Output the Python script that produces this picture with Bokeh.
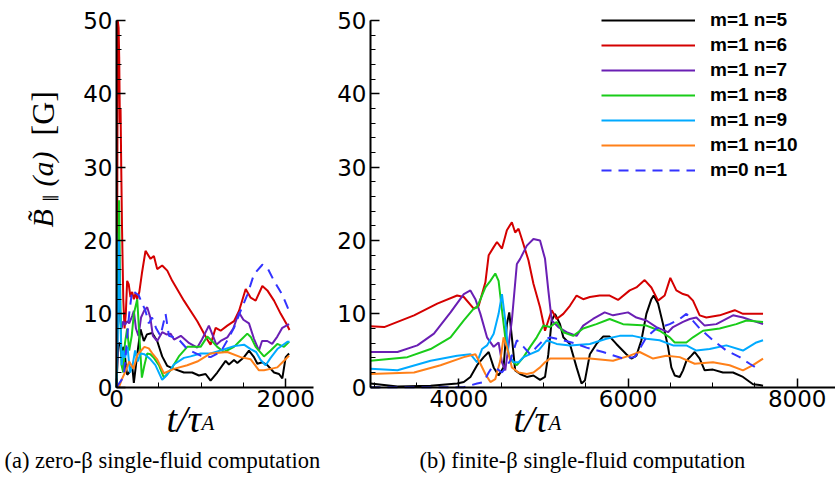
import math
from bokeh.plotting import figure
from bokeh.models import Range1d, FixedTicker, Label, Legend, LegendItem
from bokeh.layouts import row
from bokeh.embed import file_html
from bokeh.resources import INLINE

# ---------------- data: panel (a) zero-beta ----------------
a_t_n5 = [0, 10, 20, 40, 60, 80, 95, 110, 126, 150, 185, 205, 240, 284, 323, 360, 422, 481, 540, 600, 678, 797, 895, 974, 1053, 1112, 1191, 1290, 1329, 1389, 1428, 1507, 1566, 1625, 1665, 1724, 1783, 1862, 1921, 1960, 2000, 2040]
a_v_n5 = [0, 3, 6, 6, 4, 5.5, 5, 3, 1.7, 2, 3, 0.6, 4, 7.9, 6.3, 7.2, 7.4, 6.3, 4.2, 2.9, 2.5, 2.0, 2.0, 1.6, 1.8, 0.9, 2.0, 3.6, 3.1, 3.7, 3.3, 4.1, 5.0, 4.1, 3.2, 3.4, 3.0, 2.0, 1.8, 1.2, 4.1, 4.6]

a_t_n6 = [0, 8, 15, 25, 32, 40, 48, 56, 65, 80, 95, 110, 126, 145, 165, 185, 205, 225, 244, 270, 300, 343, 402, 442, 481, 540, 600, 659, 797, 955, 1073, 1112, 1172, 1231, 1310, 1389, 1448, 1527, 1586, 1645, 1724, 1783, 1862, 1941, 2020, 2045]
a_v_n6 = [0, 20, 50, 49, 45, 36, 38, 30, 22, 12, 8, 10, 14.5, 14, 12.3, 13, 12, 12.8, 12, 13, 15.5, 18.6, 17.5, 17.9, 16.1, 16.6, 15.9, 14.5, 11.8, 9.0, 6.5, 5.8, 8.1, 7.7, 8.4, 9.0, 10.4, 13.4, 12.2, 11.8, 13.8, 13.2, 11.8, 10.0, 8.4, 7.8]

a_t_n7 = [0, 10, 20, 30, 45, 60, 80, 100, 126, 150, 185, 205, 230, 260, 290, 330, 363, 400, 430, 481, 540, 590, 640, 680, 760, 860, 955, 1010, 1092, 1140, 1180, 1231, 1310, 1380, 1448, 1500, 1566, 1625, 1684, 1720, 1783, 1840, 1901, 1960, 2040]
a_v_n7 = [0, 4, 21, 15, 9, 8, 9, 8.5, 9, 8.7, 9.7, 10.4, 8, 7, 9.5, 10.5, 10.9, 9.5, 7, 6.3, 7.5, 7.2, 7.3, 6.5, 7, 6.0, 5.4, 6.5, 8.4, 7, 5.8, 6.3, 6.8, 8, 10.2, 9.2, 8.7, 6.6, 5.0, 6.3, 6.3, 5.9, 6.9, 8.1, 8.6]

a_t_n8 = [0, 15, 30, 45, 60, 80, 100, 126, 150, 180, 205, 245, 270, 300, 330, 363, 400, 442, 501, 560, 639, 737, 836, 994, 1073, 1112, 1191, 1270, 1389, 1467, 1546, 1590, 1645, 1743, 1822, 1901, 1980, 2040]
a_v_n8 = [0, 12, 25.5, 12, 3, 2, 6, 8, 5, 7, 10, 12, 7, 1.3, 3, 4.6, 4.5, 4, 3, 1.3, 2.3, 4.2, 5.5, 5.5, 6.9, 6.5, 5.5, 4.8, 5.5, 6.4, 7.3, 6.8, 5.5, 4.2, 5.0, 5.9, 5.5, 6.2]

a_t_n9 = [0, 15, 30, 45, 60, 80, 100, 130, 160, 190, 220, 250, 284, 330, 402, 460, 540, 600, 678, 797, 876, 994, 1112, 1231, 1389, 1507, 1586, 1650, 1704, 1763, 1822, 1901, 2020, 2045]
a_v_n9 = [0, 8, 20, 10, 3, 5, 4, 5.5, 2, 3, 5, 3.5, 4.6, 4.5, 3.8, 3.0, 1.0, 1.7, 3.1, 4.0, 4.2, 4.6, 4.6, 5.0, 5.6, 5.8, 5.2, 4.8, 3.7, 3.0, 4.0, 5.2, 6.2, 6.2]

a_t_n10 = [0, 30, 60, 100, 150, 200, 250, 284, 330, 382, 430, 481, 560, 678, 836, 955, 1112, 1310, 1467, 1586, 1684, 1743, 1822, 1901, 1980, 2040]
a_v_n10 = [0.5, 0, 1, 2, 3.5, 2.5, 4.5, 4.9, 5.5, 5.3, 4.5, 3.8, 1.9, 2.5, 3.0, 3.5, 4.6, 4.8, 4.1, 3.8, 2.3, 2.3, 2.5, 2.7, 3.6, 4.3]

a_t_m0 = [0, 30, 60, 90, 120, 150, 185, 230, 264, 300, 340, 382, 420, 470, 520, 580, 620, 678, 737, 836, 994, 1112, 1231, 1310, 1389, 1467, 1546, 1625, 1724, 1783, 1862, 1960, 2040]
a_v_m0 = [0, 0.5, 1, 2, 6, 10, 13.2, 12.8, 12.5, 11.5, 10.5, 8.7, 9.5, 8.0, 7.0, 10, 7, 6.8, 6.5, 5.2, 4.3, 4.1, 4.8, 6.4, 8.1, 10.4, 12.6, 15.4, 16.7, 16.3, 14.5, 12.6, 10.4]

# ---------------- data: panel (b) finite-beta ----------------
b_t_n5 = [2956, 3275, 3667, 3980, 4059, 4137, 4216, 4294, 4353, 4412, 4470, 4529, 4568, 4596, 4627, 4666, 4725, 4804, 4882, 4960, 5019, 5058, 5098, 5137, 5196, 5235, 5313, 5392, 5450, 5490, 5549, 5627, 5705, 5783, 5862, 5980, 6040, 6099, 6158, 6217, 6276, 6303, 6355, 6414, 6473, 6512, 6552, 6611, 6650, 6690, 6749, 6788, 6847, 6906, 7004, 7122, 7241, 7359, 7477, 7556, 7596]
b_v_n5 = [0.5, 0.1, 0.2, 0.5, 0.7, 1.4, 3.0, 4.1, 4.8, 2.7, 1.6, 2.7, 8.6, 10.2, 6.8, 2.3, 1.8, 1.4, 1.6, 1.0, 1.4, 4.5, 9.1, 10.0, 8.6, 6.8, 5.9, 2.7, 0.5, 0.9, 4.5, 5.9, 6.9, 6.9, 5.9, 4.5, 3.9, 4.3, 6.4, 10.0, 12.0, 12.5, 11.4, 8.6, 5.5, 2.7, 1.6, 1.4, 2.3, 3.6, 4.3, 4.8, 3.9, 2.3, 2.4, 2.0, 2.0, 1.4, 0.4, 0.3, 0.2]

b_t_n6 = [2956, 3118, 3471, 3745, 3980, 4059, 4176, 4235, 4314, 4353, 4412, 4451, 4510, 4568, 4627, 4666, 4706, 4745, 4823, 4882, 4960, 5019, 5058, 5098, 5156, 5235, 5313, 5392, 5470, 5549, 5665, 5783, 5882, 6020, 6099, 6197, 6276, 6355, 6433, 6500, 6571, 6650, 6709, 6768, 6847, 6926, 7083, 7261, 7359, 7596]
b_v_n6 = [8.3, 8.2, 9.8, 11.4, 12.5, 12.3, 10.7, 11.1, 14.3, 18.0, 19.1, 19.8, 18.9, 21.4, 22.5, 21.1, 21.6, 20.2, 17.3, 14.1, 10.9, 7.7, 9.1, 10.5, 9.3, 10.0, 11.1, 12.5, 12.0, 12.3, 12.5, 12.5, 11.9, 13.2, 13.6, 14.6, 13.6, 11.8, 12.5, 14.9, 13.2, 12.7, 12.5, 11.8, 9.8, 9.5, 9.8, 10.5, 10.0, 10.0]

b_t_n7 = [2956, 3275, 3510, 3706, 3902, 4059, 4137, 4196, 4255, 4333, 4412, 4470, 4510, 4549, 4627, 4686, 4725, 4804, 4882, 4960, 5019, 5058, 5098, 5176, 5274, 5392, 5470, 5586, 5724, 5823, 6000, 6099, 6217, 6335, 6473, 6532, 6650, 6729, 6808, 6906, 7044, 7241, 7359, 7596]
b_v_n7 = [4.8, 4.8, 5.7, 7.3, 10.2, 12.7, 13.2, 12.0, 10.0, 6.8, 5.5, 6.1, 3.4, 2.3, 9.1, 16.8, 17.5, 19.3, 20.2, 20.0, 17.5, 13.2, 9.1, 8.2, 7.5, 7.0, 8.4, 9.3, 10.2, 9.8, 10.2, 9.5, 9.1, 8.2, 7.5, 8.2, 8.9, 9.3, 9.5, 8.4, 8.6, 9.8, 9.5, 8.6]

b_t_n8 = [2956, 3392, 3667, 3902, 4059, 4176, 4216, 4314, 4373, 4431, 4470, 4510, 4549, 4588, 4627, 4686, 4765, 4843, 4921, 5000, 5078, 5156, 5235, 5352, 5470, 5626, 5783, 5941, 6217, 6374, 6493, 6552, 6690, 6768, 6887, 7083, 7280, 7399, 7596]
b_v_n8 = [3.6, 4.1, 5.2, 6.8, 9.1, 10.7, 10.9, 13.6, 14.5, 15.5, 14.5, 10.5, 6.8, 4.5, 3.6, 3.0, 4.1, 5.5, 6.8, 8.4, 8.2, 8.9, 7.5, 7.0, 8.0, 8.6, 9.3, 8.6, 8.4, 7.7, 6.8, 6.1, 6.1, 6.8, 7.7, 8.0, 8.6, 9.1, 8.9]

b_t_n9 = [2956, 3275, 3667, 3980, 4137, 4216, 4274, 4333, 4412, 4470, 4510, 4549, 4588, 4647, 4706, 4765, 4843, 4941, 5039, 5156, 5313, 5549, 5744, 5902, 6059, 6217, 6374, 6532, 6690, 6808, 6965, 7162, 7359, 7517, 7596]
b_v_n9 = [2.5, 2.3, 3.6, 4.3, 4.5, 3.4, 5.2, 5.7, 7.3, 10.0, 12.7, 9.1, 4.5, 3.4, 3.4, 4.1, 4.5, 5.0, 6.4, 5.9, 5.7, 5.9, 6.6, 7.0, 7.0, 6.6, 6.4, 5.7, 5.7, 5.0, 5.2, 5.7, 5.0, 6.1, 6.4]

b_t_n10 = [2956, 3471, 3784, 4059, 4196, 4255, 4314, 4373, 4431, 4490, 4529, 4568, 4627, 4706, 4804, 4882, 4960, 5019, 5078, 5235, 5549, 5823, 6020, 6138, 6296, 6453, 6611, 6788, 7004, 7201, 7359, 7477, 7596]
b_v_n10 = [1.8, 2.0, 3.0, 4.1, 4.5, 3.2, 1.8, 0.7, 1.1, 3.6, 6.8, 5.5, 2.7, 2.0, 1.8, 2.0, 2.7, 3.4, 3.9, 3.9, 3.9, 3.6, 4.3, 4.8, 3.9, 4.3, 4.1, 3.2, 3.4, 3.0, 2.3, 3.0, 3.9]

b_t_m0 = [2956, 3500, 4059, 4216, 4294, 4353, 4392, 4451, 4510, 4608, 4686, 4765, 4843, 4921, 5000, 5078, 5156, 5235, 5392, 5510, 5704, 5941, 6079, 6217, 6335, 6493, 6611, 6690, 6749, 6847, 7004, 7162, 7320, 7438, 7536]
b_v_m0 = [0, 0, 0, 0.5, 0.7, 2.0, 2.7, 2.5, 2.0, 3.6, 6.4, 5.5, 4.5, 5.5, 6.4, 6.8, 6.6, 6.4, 5.9, 5.4, 4.8, 3.9, 4.1, 6.8, 8.0, 8.6, 9.3, 10.0, 9.3, 8.0, 6.4, 5.0, 4.1, 3.2, 2.5]

mode_labels = ["m=1 n=5", "m=1 n=6", "m=1 n=7", "m=1 n=8", "m=1 n=9", "m=1 n=10", "m=0 n=1"]
y_ticks = [0, 10, 20, 30, 40, 50]
a_x_ticks = [0, 2000]
b_x_ticks = [4000, 6000, 8000]

colors = ["#000000", "#d40000", "#6a1fb4", "#19cc19", "#00aaff", "#ff8019", "#3333ff"]
dashes = ["solid"] * 6 + ["10 7"]

a_series = [(a_t_n5, a_v_n5), (a_t_n6, a_v_n6), (a_t_n7, a_v_n7), (a_t_n8, a_v_n8),
            (a_t_n9, a_v_n9), (a_t_n10, a_v_n10), (a_t_m0, a_v_m0)]
b_series = [(b_t_n5, b_v_n5), (b_t_n6, b_v_n6), (b_t_n7, b_v_n7), (b_t_n8, b_v_n8),
            (b_t_n9, b_v_n9), (b_t_n10, b_v_n10), (b_t_m0, b_v_m0)]

H = 478
PX_X = 0.0846            # px per time unit
PX_Y = 7.334             # px per field unit
Y0 = 386.7               # canvas y of B=0
TICK_FONT = "DejaVu Sans"
SERIF = "Liberation Serif"


def make_fig(width, x_at_axis, t_axis, t_end, xticks, xminor):
    x0 = t_axis - x_at_axis / PX_X
    x1 = t_axis + (width - x_at_axis) / PX_X
    p = figure(width=width, height=H, x_range=Range1d(x0, x1),
               y_range=Range1d(-(H - Y0) / PX_Y, Y0 / PX_Y),
               min_border=0, output_backend="svg", toolbar_location=None, title=None)
    p.xaxis.fixed_location = 0
    p.yaxis.fixed_location = t_axis
    p.xaxis.bounds = (t_axis, t_end)
    p.yaxis.bounds = (0, 50)
    p.xaxis.ticker = FixedTicker(ticks=xticks, minor_ticks=xminor)
    p.yaxis.ticker = FixedTicker(ticks=y_ticks, minor_ticks=list(range(0, 51, 2)))
    for ax in (p.xaxis[0], p.yaxis[0]):
        ax.axis_line_width = 2
        ax.axis_line_color = "black"
        ax.major_tick_in = 9
        ax.major_tick_out = 0
        ax.minor_tick_in = 5
        ax.minor_tick_out = 0
        ax.major_tick_line_width = 1.5
        ax.minor_tick_line_width = 1
        ax.major_label_text_font = TICK_FONT
        ax.major_label_text_font_size = "23px"
        ax.major_label_text_color = "black"
    p.xaxis.major_label_standoff = 3
    p.yaxis.major_label_standoff = 4
    p.xgrid.visible = False
    p.ygrid.visible = False
    p.outline_line_color = None
    p.background_fill_color = "white"
    p.border_fill_color = "white"
    return p


def add_text(p, x, y, text, size, style="normal", angle=0.0, baseline="alphabetic"):
    p.add_layout(Label(x=x, y=y, x_units="screen", y_units="screen", text=text, angle=angle,
                       text_font=SERIF, text_font_style=style, text_font_size=size,
                       text_baseline=baseline, text_align="left", text_color="black"))


SHIFT = 10  # compensates the renderer's baseline offset

# ---------------- panel (a) ----------------
p1 = make_fig(330, 116, 0, 2331, a_x_ticks, [500, 1000, 1500, 2000])
for (t, v), c, d in zip(a_series, colors, dashes):
    p1.line(t, v, line_color=c, line_width=2, line_dash=d)

add_text(p1, 166, H - 428 + SHIFT, "t/τ", "38px", "italic")
add_text(p1, 201, H - 432 + SHIFT, "A", "21px", "italic")
add_text(p1, 4, H - 470 + SHIFT, "(a) zero-β single-fluid computation", "22.5px")
ang = math.pi / 2
add_text(p1, 42, H - 227, "B̃", "30px", "italic", ang, "middle")
add_text(p1, 49, H - 201, "∥", "16px", "normal", ang, "middle")
add_text(p1, 42, H - 186, "(a)", "30px", "italic", ang, "middle")
add_text(p1, 42, H - 135, "[G]", "32px", "normal", ang, "middle")

# ---------------- panel (b) ----------------
p2 = make_fig(505, 40, 2956, 8460, b_x_ticks, list(range(3000, 8001, 500)))
renderers = []
for (t, v), c, d in zip(b_series, colors, dashes):
    renderers.append(p2.line(t, v, line_color=c, line_width=2, line_dash=d))

legend = Legend(items=[LegendItem(label=lab, renderers=[r]) for lab, r in zip(mode_labels, renderers)],
                location=(271, 297), padding=0, margin=0, spacing=3,
                glyph_width=94, glyph_height=20, label_height=20, label_standoff=15,
                label_text_font="Liberation Sans", label_text_font_style="bold",
                label_text_font_size="19px", label_text_color="black",
                border_line_color=None, background_fill_alpha=0)
p2.add_layout(legend)

add_text(p2, 183, H - 428 + SHIFT, "t/τ", "38px", "italic")
add_text(p2, 218, H - 432 + SHIFT, "A", "21px", "italic")
add_text(p2, 89, H - 470 + SHIFT, "(b) finite-β single-fluid computation", "22.5px")

layout = row(p1, p2)
open("out.html", "w").write(file_html(layout, INLINE))
